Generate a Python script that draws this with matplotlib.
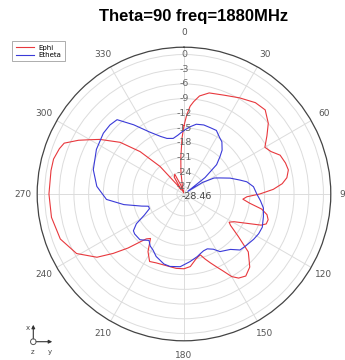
import numpy as np
import matplotlib
matplotlib.use("Agg")
import matplotlib.pyplot as plt

title = "Theta=90 freq=1880MHz"

# pattern values (angle in deg, gain in dB)
ephi_deg = [0, 2, 4, 6, 9, 14, 22, 30, 38, 44, 50, 55, 60, 64, 68, 73, 77, 81, 84, 87,
            90, 92.5, 95, 98, 101, 104, 107, 110, 112, 115, 119, 122, 124, 128, 132, 138,
            143, 147, 150, 153, 156, 159, 162, 165, 169, 175, 180, 186, 196, 202, 207, 212,
            217, 220, 222, 226, 230, 234, 241, 250, 260, 270, 280, 285, 290, 293, 297, 300,
            303, 309, 314, 319, 323, 326, 330, 335, 340, 344, 348, 352, 355, 358]
ephi_db = [-14.5, -12.3, -10.5, -9.5, -8.2, -7.2, -6.7, -5.8, -4.8, -4.6, -6.0, -7.8, -9.4,
           -8.7, -7.3, -6.8, -6.6, -7.2, -8.3, -10.2, -13.0, -15.6, -16.4, -14.9, -12.3,
           -11.0, -10.5, -10.6, -11.5, -14.3, -16.8, -17.6, -17.0, -14.4, -10.8, -8.4, -7.5,
           -8.0, -9.0, -10.8, -12.2, -13.4, -14.5, -15.6, -15.1, -13.6, -13.2, -13.2, -13.4,
           -13.3, -13.0, -14.6, -17.1, -16.5, -15.5, -12.6, -9.6, -6.5, -3.4, -1.6, -1.0,
           -0.9, -0.9, -0.9, -1.4, -1.9, -4.3, -6.3, -8.0, -11.7, -16.0, -21.0, -26.0, -27.5,
           -24.5, -24.0, -26.5, -28.2, -27.0, -24.0, -21.0, -17.0]

etheta_deg = [0, 5, 10, 16, 22, 27, 32, 36, 41, 44, 48, 52, 55, 58, 62, 66, 71, 76, 79, 84,
              90, 95, 100, 106, 113, 118, 123, 130, 135, 140, 148, 152, 157, 161, 165, 168,
              175, 183, 191, 196, 200, 204, 209, 213, 217, 221, 224, 231, 234, 238, 242, 247,
              251, 254, 260, 266, 275, 285, 297, 307, 313, 318, 324, 331, 338, 343, 349, 354,
              358]
etheta_db = [-15.5, -14.7, -14.0, -13.8, -13.9, -13.9, -14.8, -15.3, -16.6, -17.9, -19.5,
             -23.0, -27.5, -24.0, -21.5, -20.4, -18.5, -16.7, -15.4, -14.2, -13.6, -12.8,
             -12.0, -11.6, -11.1, -11.2, -11.5, -12.0, -12.3, -13.7, -14.6, -15.7, -16.3,
             -16.2, -15.8, -15.4, -14.6, -13.6, -13.4, -13.6, -14.1, -14.5, -15.4, -15.8,
             -16.6, -16.0, -15.5, -15.5, -15.7, -17.0, -19.3, -20.8, -20.8, -19.5, -16.0,
             -12.6, -10.6, -9.3, -8.4, -7.85, -7.8, -8.05, -11.0, -14.0, -15.8, -16.6, -16.9,
             -16.4, -15.8]

r_min = -28.46
r_max = 1.5
rings = [-27, -24, -21, -18, -15, -12, -9, -6, -3, 0]
angle_ticks = list(range(0, 360, 30))

fig = plt.figure(figsize=(3.45, 3.6), dpi=100)
ax = fig.add_axes([0.1078, 0.0533, 0.851, 0.8156], projection="polar")
ax.set_theta_zero_location("N")
ax.set_theta_direction(-1)
ax.set_rlim(r_min, r_max)

def closed(deg, db):
    t = np.radians(list(deg) + [deg[0]])
    return t, list(db) + [db[0]]

t, r = closed(ephi_deg, ephi_db)
ax.plot(t, r, color="#e8383d", lw=0.8, label="Ephi")
t, r = closed(etheta_deg, etheta_db)
ax.plot(t, r, color="#3a3ad8", lw=0.8, label="Etheta")

ax.set_rgrids(rings, labels=[""] * len(rings))
ax.set_thetagrids(angle_ticks, labels=[str(a) for a in angle_ticks],
                  fontsize=6.5, color="#555555")
ax.tick_params(axis="x", pad=0)
ax.grid(color="#dcdcdc", lw=0.7)
ax.spines["polar"].set_color("#444444")
ax.spines["polar"].set_linewidth(0.9)

for ring in rings:
    ax.text(0, ring, str(ring), ha="center", va="center", fontsize=6.8, color="#666666")
ax.annotate("-28.46", xy=(0, r_min), xytext=(-2, -1.5), textcoords="offset points",
            ha="left", va="center", fontsize=6.8, color="#444444")

fig.text(0.56, 0.955, title, ha="center", va="center", fontsize=12, fontweight="bold",
         family="Liberation Sans")

leg = fig.legend(loc="upper left", bbox_to_anchor=(9 / 345, 1 - 38 / 360), fontsize=5,
                 handlelength=2.6, handletextpad=0.7, borderpad=0.45, labelspacing=0.2,
                 frameon=True, fancybox=False, edgecolor="#888888")
leg.get_frame().set_linewidth(0.6)

# axis triad, bottom left
ox, oy = 33.3 / 345, 1 - 341.7 / 360
fig.add_artist(matplotlib.patches.FancyArrowPatch((ox, oy), (ox, 1 - 322 / 360),
               transform=fig.transFigure, arrowstyle="-|>", mutation_scale=5,
               color="#333333", lw=0.8))
fig.add_artist(matplotlib.patches.FancyArrowPatch((ox, oy), (55 / 345, oy),
               transform=fig.transFigure, arrowstyle="-|>", mutation_scale=5,
               color="#333333", lw=0.8))
fig.add_artist(matplotlib.patches.Circle((ox, oy), 0.008, transform=fig.transFigure,
               fill=False, ec="#555555", lw=0.7))
fig.text(28 / 345, 1 - 328 / 360, "x", fontsize=5, ha="center", va="center", color="#444444")
fig.text(33 / 345, 1 - 352 / 360, "z", fontsize=5, ha="center", va="center", color="#444444")
fig.text(50 / 345, 1 - 352 / 360, "y", fontsize=5, ha="center", va="center", color="#444444")

fig.savefig("out.png", dpi=100)
